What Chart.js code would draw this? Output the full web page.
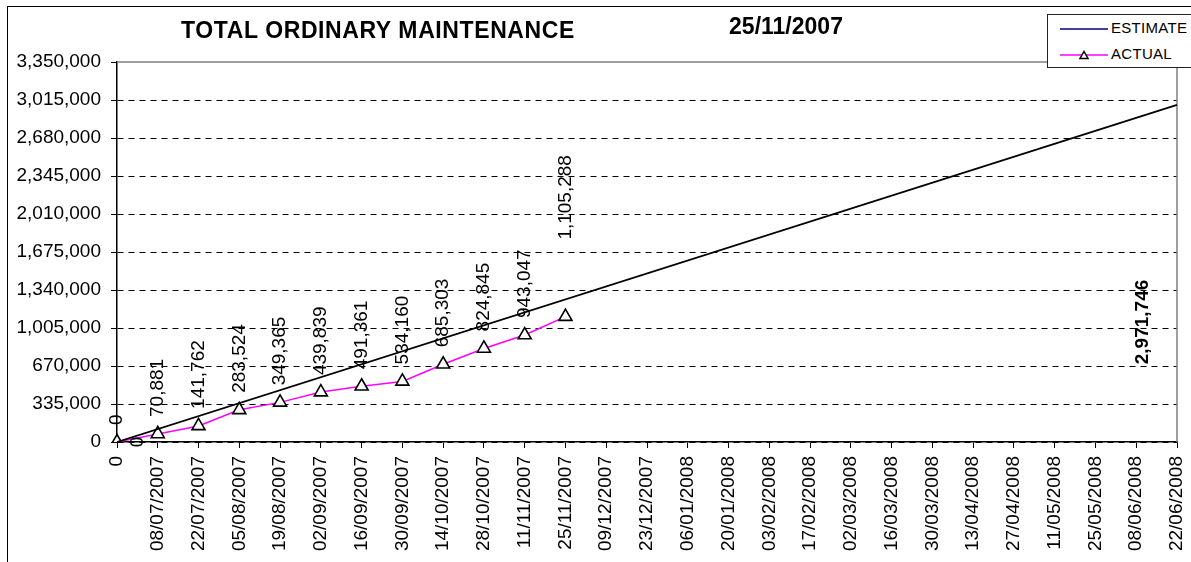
<!DOCTYPE html>
<html>
<head>
<meta charset="utf-8">
<script src="https://cdn.jsdelivr.net/npm/chart.js@4"></script>
<style>
  html, body { margin: 0; padding: 0; background: #fff; }
  body { width: 1191px; height: 562px; position: relative; overflow: hidden; font-family: "Liberation Sans", Arial, sans-serif; }
  #frame { position: absolute; left: 7px; top: 6px; width: 1200px; height: 600px; border: 1.5px solid #000; box-sizing: border-box; }
  #wrap { position: absolute; left: 0; top: 0; width: 1191px; height: 562px; }
  .ttl { position: absolute; font-weight: bold; font-size: 23px; line-height: 23px; text-align: center; color: #000; }
  #legend { position: absolute; left: 1047px; top: 14px; width: 160px; height: 54px; border: 1px solid #222; background: #fff; box-sizing: border-box; }
  .leg { position: absolute; left: 12px; height: 20px; font-size: 15px; line-height: 20px; color: #000; letter-spacing: 0.3px; }
  .leg svg { vertical-align: middle; margin-right: 3px; }
</style>
</head>
<body>
<div id="frame"></div>
<div id="wrap"><canvas id="chart" width="1191" height="562"></canvas></div>
<div class="ttl" style="left:168px;top:19px;width:420px;letter-spacing:0.6px;">TOTAL ORDINARY MAINTENANCE</div>
<div class="ttl" style="left:686px;top:15px;width:200px;">25/11/2007</div>
<div id="legend">
  <div class="leg" style="top:3px;"><svg width="48" height="10"><line x1="0" y1="5" x2="48" y2="5" stroke="#000080" stroke-width="1.5"/></svg>ESTIMATE</div>
  <div class="leg" style="top:29px;"><svg width="48" height="10"><line x1="0" y1="5" x2="48" y2="5" stroke="#ff00ff" stroke-width="1.5"/><polygon points="24,1.5 28,8.5 20,8.5" fill="#fff" stroke="#000" stroke-width="1.5"/></svg>ACTUAL</div>
</div>
<script>
// x axis: one category every 14 days
const dateLabels = [
  "0", "08/07/2007", "22/07/2007", "05/08/2007", "19/08/2007", "02/09/2007",
  "16/09/2007", "30/09/2007", "14/10/2007", "28/10/2007", "11/11/2007",
  "25/11/2007", "09/12/2007", "23/12/2007", "06/01/2008", "20/01/2008",
  "03/02/2008", "17/02/2008", "02/03/2008", "16/03/2008", "30/03/2008",
  "13/04/2008", "27/04/2008", "11/05/2008", "25/05/2008", "08/06/2008",
  "22/06/2008"
];

// cumulative actual spend
const actualValues = [0, 70881, 141762, 283524, 349365, 439839, 491361, 534160, 685303, 824845, 943047, 1105288];

// estimate: straight line from start to end
const estimatePoints = [
  { x: "0", y: 0 },
  { x: "22/06/2008", y: 2971746 }
];

const yMax = 3350000;
const yStep = 335000;

const FONT = "'Liberation Sans', Arial, sans-serif";

function fmt(v) {
  return Number(v).toLocaleString("en-US");
}

// rotated value labels like the excel chart
const valueLabels = {
  id: "valueLabels",
  afterDatasetsDraw(chart) {
    const ctx = chart.ctx;
    const estMeta = chart.getDatasetMeta(0);
    const actMeta = chart.getDatasetMeta(1);

    ctx.save();
    ctx.fillStyle = "#000";
    ctx.textBaseline = "middle";

    // actual: above every point
    ctx.font = "19px " + FONT;
    ctx.textAlign = "left";
    actMeta.data.forEach((pt, i) => {
      const lift = i === actualValues.length - 1 ? 77 : 17;
      ctx.save();
      ctx.translate(pt.x, pt.y - lift);
      ctx.rotate(-Math.PI / 2);
      ctx.fillText(fmt(actualValues[i]), 0, 0);
      ctx.restore();
    });

    // estimate: start value right of the origin, end value bold near the right edge
    const first = estMeta.data[0];
    ctx.textAlign = "center";
    ctx.save();
    ctx.translate(first.x + 21, first.y);
    ctx.rotate(-Math.PI / 2);
    ctx.fillText(fmt(estimatePoints[0].y), 0, 0);
    ctx.restore();

    const last = estMeta.data[estMeta.data.length - 1];
    ctx.font = "bold 19px " + FONT;
    ctx.save();
    ctx.translate(last.x - 34, chart.scales.y.getPixelForValue(1058000));
    ctx.rotate(-Math.PI / 2);
    ctx.fillText(fmt(estimatePoints[1].y), 0, 0);
    ctx.restore();

    ctx.restore();
  }
};

// grey plot border on top and right
const plotBorder = {
  id: "plotBorder",
  beforeDatasetsDraw(chart) {
    const { ctx, chartArea } = chart;
    ctx.save();
    ctx.strokeStyle = "#808080";
    ctx.lineWidth = 1.5;
    ctx.beginPath();
    ctx.moveTo(chartArea.left, chartArea.top);
    ctx.lineTo(chartArea.right, chartArea.top);
    ctx.lineTo(chartArea.right, chartArea.bottom);
    ctx.stroke();
    ctx.restore();
  }
};

new Chart(document.getElementById("chart"), {
  type: "line",
  data: {
    labels: dateLabels,
    datasets: [
      {
        label: "ESTIMATE",
        data: estimatePoints,
        borderColor: "#000",
        borderWidth: 1.8,
        pointRadius: 0,
        spanGaps: true,
        tension: 0
      },
      {
        label: "ACTUAL",
        data: actualValues,
        borderColor: "#ff00ff",
        borderWidth: 1.5,
        pointStyle: "triangle",
        pointRadius: 7.5,
        pointBackgroundColor: "#fff",
        pointBorderColor: "#000",
        pointBorderWidth: 1.6,
        tension: 0
      }
    ]
  },
  options: {
    responsive: false,
    animation: false,
    layout: { padding: { left: 0, top: 62, right: 14, bottom: 0 } },
    plugins: {
      legend: { display: false },
      title: { display: false },
      tooltip: { enabled: false }
    },
    scales: {
      x: {
        type: "category",
        offset: false,
        afterFit(scale) {
          scale.height = 120;
          scale.paddingLeft = 0;
          scale.paddingRight = 0;
        },
        grid: { drawOnChartArea: false, drawTicks: true, tickLength: 6, color: "#000", lineWidth: 1 },
        border: { color: "#000", width: 1.5 },
        ticks: {
          autoSkip: false,
          maxRotation: 90,
          minRotation: 90,
          padding: 8,
          color: "#000",
          font: { family: FONT, size: 19 }
        }
      },
      y: {
        min: 0,
        max: yMax,
        afterFit(scale) { scale.width = 117; },
        grid: {
          color: (c) => (c.tick && c.tick.value === yMax ? "rgba(0,0,0,0)" : "#000"),
          tickColor: "#000",
          lineWidth: 1,
          tickLength: 6
        },
        border: { color: "#000", width: 1.5, dash: [6, 5] },
        ticks: {
          stepSize: yStep,
          padding: 10,
          color: "#000",
          font: { family: FONT, size: 19 },
          callback: (v) => fmt(v)
        }
      }
    }
  },
  plugins: [plotBorder, valueLabels]
});
</script>
</body>
</html>
